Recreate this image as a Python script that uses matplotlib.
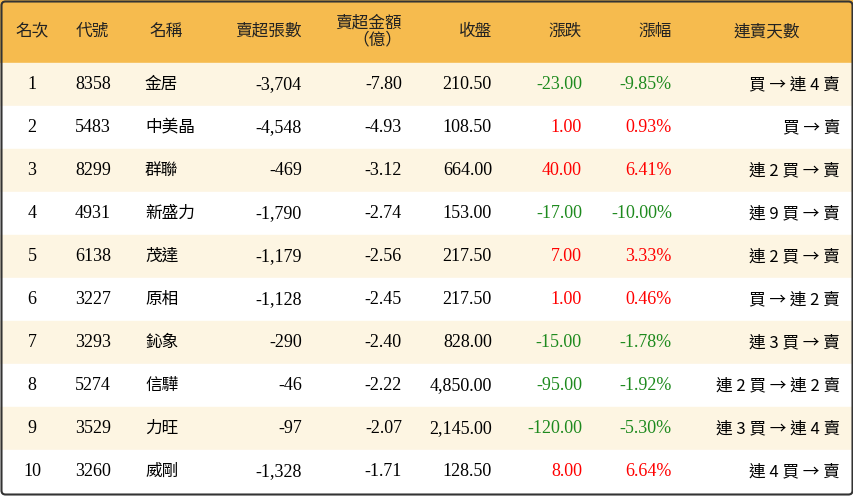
import matplotlib.pyplot as plt
from matplotlib.patches import Rectangle, FancyBboxPatch

rank = [1, 2, 3, 4, 5, 6, 7, 8, 9, 10]
codes = ["8358", "5483", "8299", "4931", "6138", "3227", "3293", "5274", "3529", "3260"]
names = ["金居", "中美晶", "群聯", "新盛力", "茂達", "原相", "鈊象", "信驊", "力旺", "威剛"]
net_lots = [-3704, -4548, -469, -1790, -1179, -1128, -290, -46, -97, -1328]
net_amt = [-7.80, -4.93, -3.12, -2.74, -2.56, -2.45, -2.40, -2.22, -2.07, -1.71]
close = [210.50, 108.50, 664.00, 153.00, 217.50, 217.50, 828.00, 4850.00, 2145.00, 128.50]
change = [-23.00, 1.00, 40.00, -17.00, 7.00, 1.00, -15.00, -95.00, -120.00, 8.00]
pct = [-9.85, 0.93, 6.41, -10.00, 3.33, 0.46, -1.78, -1.92, -5.30, 6.64]
streak = ["買 → 連 4 賣", "買 → 賣", "連 2 買 → 賣", "連 9 買 → 賣", "連 2 買 → 賣",
          "買 → 連 2 賣", "連 3 買 → 賣", "連 2 買 → 連 2 賣", "連 3 買 → 連 4 賣", "連 4 買 → 賣"]
headers = ["名次", "代號", "名稱", "賣超張數", "賣超金額\n（億）", "收盤", "漲跌", "漲幅", "連賣天數"]

W, H = 854, 496
fig = plt.figure(figsize=(W / 100, H / 100), dpi=100)
ax = fig.add_axes([0, 0, 1, 1])
ax.set_xlim(0, W)
ax.set_ylim(H, 0)
ax.axis("off")

cjk = "Noto Sans CJK TC"
serif = "Liberation Serif"
head_h = 63
row_h = 43

ax.add_patch(Rectangle((0, 0), W, head_h, color="#F6BB4E", zorder=0))
for i in range(len(rank)):
    y0 = head_h + i * row_h
    ax.add_patch(Rectangle((0, y0), W, row_h, color="#FDF5E2" if i % 2 == 0 else "white", zorder=0))
ax.add_patch(FancyBboxPatch((1.5, 1.5), W - 3, H - 3, boxstyle="round,pad=0,rounding_size=4",
                            fill=False, ec="#333333", lw=1.5, zorder=3))

# header
hx = [32, 92, 166, 302, 402, 492, 582, 672, 767]
ha = ["center", "center", "center", "right", "right", "right", "right", "right", "center"]
for x, h, a in zip(hx, headers, ha):
    ax.text(x, head_h / 2, h, ha=a, va="center", fontsize=12, fontfamily=cjk,
            color="#222222", linespacing=1.0)

def col(v):
    return "#1E8A1E" if v < 0 else "#FF0000"

fs = 13
for i in range(len(rank)):
    y = head_h + i * row_h + row_h / 2
    ax.text(32, y, str(rank[i]), ha="center", va="center", fontsize=fs, fontfamily=serif)
    ax.text(75, y, codes[i], ha="left", va="center", fontsize=fs, fontfamily=serif)
    ax.text(145, y, names[i], ha="left", va="center", fontsize=12, fontfamily=cjk)
    ax.text(302, y, f"{net_lots[i]:,}", ha="right", va="center", fontsize=fs, fontfamily=serif)
    ax.text(402, y, f"{net_amt[i]:.2f}", ha="right", va="center", fontsize=fs, fontfamily=serif)
    ax.text(492, y, f"{close[i]:,.2f}", ha="right", va="center", fontsize=fs, fontfamily=serif)
    ax.text(582, y, f"{change[i]:.2f}", ha="right", va="center", fontsize=fs, fontfamily=serif,
            color=col(change[i]))
    ax.text(672, y, f"{pct[i]:.2f}%", ha="right", va="center", fontsize=fs, fontfamily=serif,
            color=col(pct[i]))
    ax.text(840, y, streak[i], ha="right", va="center", fontsize=12,
            fontfamily=[cjk, serif])

fig.savefig("out.png", dpi=100)
